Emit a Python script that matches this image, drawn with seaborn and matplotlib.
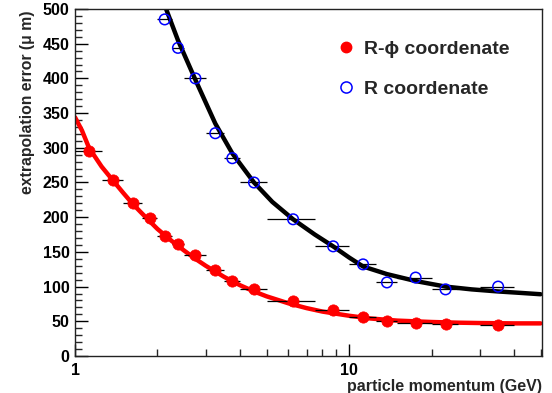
import numpy as np
import pandas as pd
import matplotlib
matplotlib.use("Agg")
import matplotlib.pyplot as plt
from matplotlib.lines import Line2D
from matplotlib.ticker import FixedLocator, NullFormatter, MultipleLocator
import seaborn as sns

# ---------------- data ----------------
p_center = [1.125, 1.375, 1.625, 1.875, 2.125, 2.375, 2.75, 3.25, 3.75, 4.5,
            6.25, 8.75, 11.25, 13.75, 17.5, 22.5, 35]
p_lo = [1.0, 1.25, 1.5, 1.75, 2.0, 2.25, 2.5, 3.0, 3.5, 4.0,
        5.0, 7.5, 10, 12.5, 15, 20, 30]
p_hi = [1.25, 1.5, 1.75, 2.0, 2.25, 2.5, 3.0, 3.5, 4.0, 5.0,
        7.5, 10, 12.5, 15, 20, 25, 40]
rphi_err = [295, 253, 221, 199, 173, 161, 145, 124, 108, 96,
            79, 66, 56, 51, 48, 46, 44]
r_err = [485, 444, 400, 321, 285, 250, 197, 158, 132, 106, 113, 96, 100]  # from p=2.125 on

rphi_fit_p = [1.0, 1.06, 1.125, 1.25, 1.375, 1.5, 1.625, 1.75, 1.875, 2.0, 2.25, 2.5,
              2.75, 3.0, 3.5, 4.0, 4.5, 5.0, 6.0, 7.0, 8.0, 10, 12, 15, 20, 25, 30, 40, 50]
rphi_fit_v = [344, 325, 300, 273, 253, 235, 219, 206, 194, 183, 166, 152,
              140, 130, 114, 102, 93, 86, 76, 69, 64, 58, 54, 51, 49, 48, 47.5, 47, 47]
r_fit_p = [2.15, 2.375, 2.75, 3.25, 3.75, 4.5, 5.25, 6.25, 7.5, 8.75, 10, 11.25,
           13.75, 17.5, 22.5, 28, 35, 42, 50]
r_fit_v = [500, 455, 398, 335, 292, 250, 222, 197, 175, 158, 142, 129,
           118, 108, 100, 96, 93, 91, 89]

legend_labels = ["R-\u03d5 coordenate", "R coordenate"]
xlabel = "particle momentum (GeV)"
ylabel = "extrapolation error (\u03bc m)"

# ---------------- style ----------------
sns.set_style("ticks")
plt.rcParams['font.family'] = ['Liberation Sans', 'DejaVu Sans']
plt.rcParams['font.weight'] = 'bold'

W, H = 552, 393
fig = plt.figure(figsize=(W / 100, H / 100), dpi=100)
ax = fig.add_axes([75 / W, 1 - 356 / H, (542 - 75) / W, (356 - 9) / H])

n_r = len(r_err)
pts = pd.DataFrame({"p": p_center, "lo": p_lo, "hi": p_hi, "rphi": rphi_err})
pts_r = pts.iloc[-n_r:].copy()
pts_r["r"] = r_err

# curves
sns.lineplot(x=rphi_fit_p, y=rphi_fit_v, ax=ax, color="#ff0000", lw=3.2,
             sort=False, zorder=2)
sns.lineplot(x=r_fit_p, y=r_fit_v, ax=ax, color="black", lw=3.2,
             sort=False, zorder=2)

# horizontal error bars
xerr = [pts["p"] - pts["lo"], pts["hi"] - pts["p"]]
ax.errorbar(pts["p"], pts["rphi"], xerr=xerr, fmt="none", ecolor="black",
            elinewidth=0.9, capsize=0, zorder=3)
xerr_r = [pts_r["p"] - pts_r["lo"], pts_r["hi"] - pts_r["p"]]
ax.errorbar(pts_r["p"], pts_r["r"], xerr=xerr_r, fmt="none", ecolor="black",
            elinewidth=0.9, capsize=0, zorder=3)

# markers
sns.scatterplot(data=pts, x="p", y="rphi", ax=ax, color="#ff0000", s=66,
                edgecolor="#ff0000", linewidth=0.5, zorder=4)
sns.scatterplot(data=pts_r, x="p", y="r", ax=ax, facecolor="none",
                edgecolor="#0000ff", s=58, linewidth=1.1, zorder=4)

ax.set_xscale("log")
ax.set_xlim(1, 50.6)
ax.set_ylim(0, 500)
ax.set_xlabel("")
ax.set_ylabel("")

# ticks ROOT-like
ax.xaxis.set_major_locator(FixedLocator([1, 10]))
ax.xaxis.set_minor_locator(FixedLocator([2, 3, 4, 5, 6, 7, 8, 9, 20, 30, 40, 50]))
ax.xaxis.set_minor_formatter(NullFormatter())
ax.set_xticklabels(["1", "10"])
ax.yaxis.set_major_locator(MultipleLocator(50))
ax.yaxis.set_minor_locator(MultipleLocator(10))
ax.tick_params(axis="both", which="major", direction="in", length=9, width=1.0,
               labelsize=11.5, colors="black", top=False, right=False)
ax.tick_params(axis="both", which="minor", direction="in", length=5, width=1.0,
               top=False, right=False)
ax.tick_params(axis="y", which="major", pad=4)
ax.tick_params(axis="x", which="major", pad=5)
for lab in ax.get_xticklabels() + ax.get_yticklabels():
    lab.set_fontweight("bold")
for s in ["top", "right", "bottom", "left"]:
    ax.spines[s].set_visible(True)
    ax.spines[s].set_linewidth(1.0)
    ax.spines[s].set_color("#222222")

# axis titles
fig.text(542 / W, 1 - 378.5 / H, xlabel, ha="right", va="top",
         fontsize=11.5, fontweight="bold")
fig.text(28 / W, 1 - 10 / H, ylabel, ha="center", va="top", rotation=90,
         fontsize=11.3, fontweight="bold")

# legend
handles = [
    Line2D([], [], ls="none", marker="o", markersize=7.5, markerfacecolor="#ff0000",
           markeredgecolor="#ff0000"),
    Line2D([], [], ls="none", marker="o", markersize=8, markerfacecolor="none",
           markeredgecolor="#0000ff", markeredgewidth=1.1),
]
leg = ax.legend(handles, legend_labels, loc="upper left",
                bbox_to_anchor=(336 / W, 1 - 40.5 / H), bbox_transform=fig.transFigure,
                frameon=False, borderpad=0, borderaxespad=0, handlelength=1.0,
                handletextpad=0.45, labelspacing=1.15,
                prop={"size": 14, "weight": "bold"})

fig.savefig("out.png", dpi=100)
